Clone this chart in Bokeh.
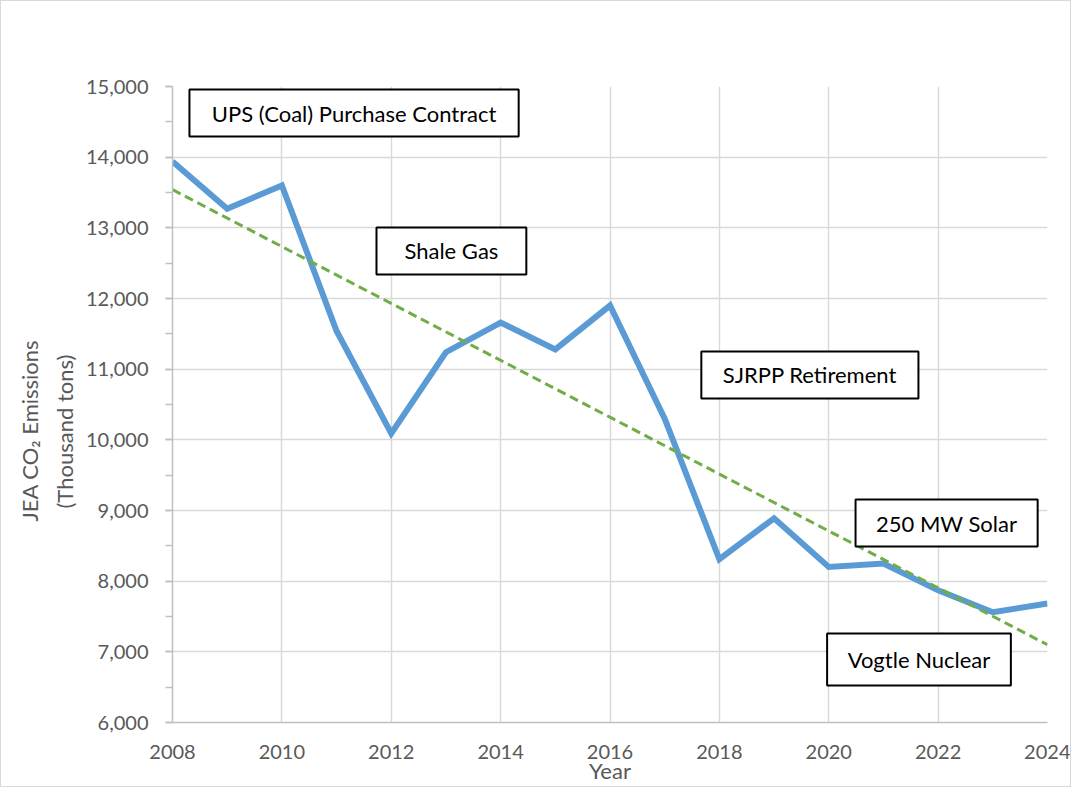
from bokeh.plotting import figure
from bokeh.models import (ColumnDataSource, NumeralTickFormatter, FixedTicker,
                          BoxAnnotation, Label, Range1d, Title)
from bokeh.embed import file_html
from bokeh.resources import INLINE

# ---- data ----
years = [2008, 2009, 2010, 2011, 2012, 2013, 2014, 2015, 2016,
         2017, 2018, 2019, 2020, 2021, 2022, 2023, 2024]
emissions = [13940, 13270, 13600, 11540, 10090, 11240, 11660, 11280, 11900,
             10300, 8310, 8890, 8200, 8250, 7870, 7560, 7685]
trend_years = [2008, 2024]
trend_values = [13540, 7100]

annotations = ["UPS (Coal) Purchase Contract", "Shale Gas", "SJRPP Retirement",
               "250 MW Solar", "Vogtle Nuclear"]
# box extents in data units (left, right, bottom, top)
ann_left = [2008.31, 2011.73, 2017.67, 2020.49, 2019.97]
ann_right = [2014.33, 2014.47, 2021.64, 2023.82, 2023.33]
ann_bottom = [14292, 12340, 10585, 8490, 6524]
ann_top = [14958, 13005, 11250, 9155, 7259]

y_title_1 = "JEA CO\u2082 Emissions"
y_title_2 = "(Thousand tons)"

FONT = "Lato"
GREY_TXT = "#595959"

p = figure(width=1069, height=780, output_backend="svg", toolbar_location=None,
           x_range=Range1d(2008, 2024), y_range=Range1d(6000, 15000),
           min_border_left=171, min_border_right=23, min_border_top=85,
           min_border_bottom=59, frame_width=875, frame_height=636)
p.outline_line_color = None
p.background_fill_color = "white"
p.border_fill_color = "white"

src = ColumnDataSource(dict(x=years, y=emissions))
p.line("x", "y", source=src, line_color="#5B9BD5", line_width=6, line_join="miter")
tsrc = ColumnDataSource(dict(x=trend_years, y=trend_values))
p.line("x", "y", source=tsrc, line_color="#70AD47", line_width=3, line_dash="9 5")

# axes
p.xaxis.ticker = FixedTicker(ticks=list(range(2008, 2025, 2)))
p.yaxis.ticker = FixedTicker(ticks=list(range(6000, 15001, 1000)),
                             minor_ticks=list(range(6000, 15001, 500)))
p.yaxis.formatter = NumeralTickFormatter(format="0,0")
p.xgrid.ticker = FixedTicker(ticks=list(range(2008, 2025, 2)))
p.ygrid.ticker = FixedTicker(ticks=list(range(6000, 15001, 1000)))
p.grid.grid_line_color = "#d9d9d9"
p.grid.grid_line_width = 1.5

for ax in (p.xaxis, p.yaxis):
    ax.axis_line_color = "#bfbfbf"
    ax.axis_line_width = 1.5
    ax.major_label_text_font = FONT
    ax.major_label_text_font_size = "20px"
    ax.major_label_text_color = GREY_TXT
    ax.axis_label_text_font = FONT
    ax.axis_label_text_font_size = "22px"
    ax.axis_label_text_color = GREY_TXT
    ax.axis_label_text_font_style = "normal"

p.xaxis.major_tick_line_color = None
p.xaxis.minor_tick_line_color = None
p.xaxis.major_label_standoff = 16
p.xaxis.axis_label = "Year"
p.xaxis.axis_label_standoff = -5

p.yaxis.major_tick_line_color = "#bfbfbf"
p.yaxis.minor_tick_line_color = "#bfbfbf"
p.yaxis.major_tick_out = 7
p.yaxis.major_tick_in = 0
p.yaxis.minor_tick_out = 7
p.yaxis.minor_tick_in = 0
p.yaxis.major_tick_line_width = 1.5
p.yaxis.minor_tick_line_width = 1.5
p.yaxis.major_label_standoff = 17

# y-axis title, two lines, centred a little below the frame centre
for txt, off, so in ((y_title_2, 214, 10), (y_title_1, 201, 2)):
    p.add_layout(Title(text=txt, align="left", offset=off, standoff=so,
                       text_font=FONT, text_font_size="22px",
                       text_font_style="normal", text_color=GREY_TXT), "left")

for t, l, r, b, tp in zip(annotations, ann_left, ann_right, ann_bottom, ann_top):
    p.add_layout(BoxAnnotation(left=l, right=r, bottom=b, top=tp,
                               fill_color="white", fill_alpha=1.0,
                               line_color="black", line_width=2, line_alpha=1.0,
                               level="overlay"))
    p.add_layout(Label(x=(l + r) / 2, y=(b + tp) / 2, text=t,
                       text_align="center", text_baseline="middle",
                       text_font=FONT, text_font_size="22px",
                       text_color="black", level="overlay"))

p.styles = {"border": "1px solid #d9d9d9"}

open("out.html", "w").write(file_html(p, INLINE))
